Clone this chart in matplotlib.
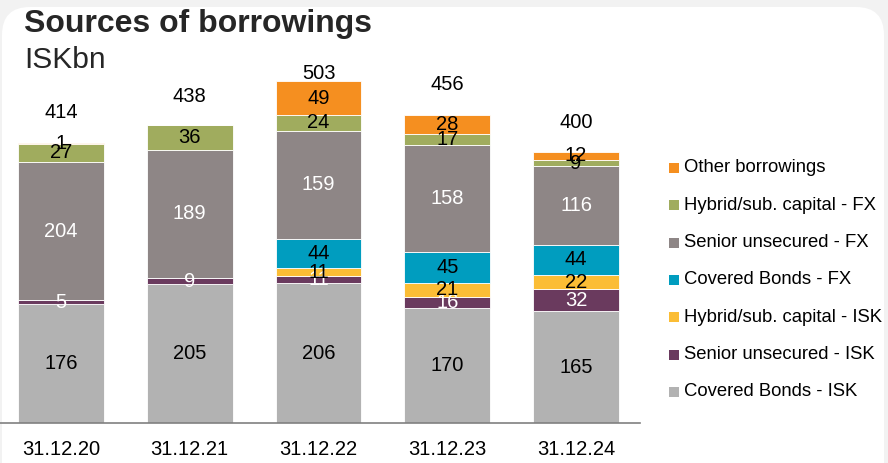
import numpy as np
import matplotlib
matplotlib.use("Agg")
import matplotlib.pyplot as plt
from matplotlib.patches import FancyBboxPatch, Rectangle
from matplotlib.transforms import IdentityTransform

plt.rcParams["font.family"] = ["Liberation Sans", "DejaVu Sans"]

# ── data (ISKbn) ───────────────────────────────────────────
dates = ["31.12.20", "31.12.21", "31.12.22", "31.12.23", "31.12.24"]
covered_isk = [176, 205, 206, 170, 165]
senior_isk = [5, 9, 11, 16, 32]
hybrid_isk = [0, 0, 11, 21, 22]
covered_fx = [0, 0, 44, 45, 44]
senior_fx = [204, 189, 159, 158, 116]
hybrid_fx = [27, 36, 24, 17, 9]
other = [1, 0, 49, 28, 12]
totals = [414, 438, 503, 456, 400]

series = [
    ("Covered Bonds - ISK", covered_isk, "#b2b2b2", "black"),
    ("Senior unsecured - ISK", senior_isk, "#6a3a5e", "white"),
    ("Hybrid/sub. capital - ISK", hybrid_isk, "#fbbd35", "black"),
    ("Covered Bonds - FX", covered_fx, "#009dbf", "black"),
    ("Senior unsecured - FX", senior_fx, "#8e8686", "white"),
    ("Hybrid/sub. capital - FX", hybrid_fx, "#a0ac5e", "black"),
    ("Other borrowings", other, "#f58f20", "black"),
]


def plot_chart():
    fig = plt.figure(figsize=(8.88, 4.63), dpi=100, facecolor="#f2f2f2")

    # ── white card ───────────────────────────────────────
    card = FancyBboxPatch((2, -30), 882, 486, boxstyle="round,pad=0,rounding_size=28",
                          facecolor="white", edgecolor="none", transform=IdentityTransform(),
                          zorder=-5)
    fig.add_artist(card)

    fig.text(24 / 888, 1 - 24 / 463, "Sources of borrowings", fontsize=23,
             fontweight="bold", color="#262626", va="center", ha="left")
    fig.text(24 / 888, 1 - 60 / 463, "ISKbn", fontsize=21.5, color="#262626",
             va="center", ha="left")

    # ── stacked bars ─────────────────────────────────────
    ax = fig.add_axes([0, 40 / 463, 640 / 888, 366 / 463])
    ax.set_facecolor("none")
    ax.set_zorder(2)
    x = np.arange(len(dates))
    bottom = np.zeros(len(dates))
    for name, vals, color, tcolor in series:
        vals = np.array(vals, dtype=float)
        ax.bar(x, vals, 0.667, bottom=bottom, color=color, edgecolor="white",
               linewidth=0.6, label=name)
        for xi, b, v in zip(x, bottom, vals):
            if v > 0:
                ax.text(xi, b + v / 2, f"{v:.0f}", ha="center", va="center",
                        fontsize=14.5, color=tcolor)
        bottom += vals

    for xi, tot in zip(x, totals):
        ax.text(xi, min(tot + 44, 516), str(tot), ha="center", va="center",
                fontsize=14.5, color="black")

    ax.set_xlim(-0.473, 4.496)
    ax.set_ylim(0, 540)
    ax.set_xticks(x)
    ax.set_xticklabels(dates, fontsize=14.5)
    ax.tick_params(axis="x", length=0, pad=12)
    ax.set_yticks([])
    for s in ["left", "top", "right"]:
        ax.spines[s].set_visible(False)
    ax.spines["bottom"].set_color("#808080")
    ax.spines["bottom"].set_linewidth(1.2)

    # ── legend ───────────────────────────────────────────
    for i, (name, vals, color, tcolor) in enumerate(reversed(series)):
        yc = 463 - (168 + i * 37.3)
        fig.add_artist(Rectangle((669, yc - 5), 10, 10, facecolor=color,
                                 edgecolor="none", transform=IdentityTransform()))
        fig.text(684 / 888, yc / 463, name, fontsize=13.3, color="black",
                 va="center", ha="left")

    fig.savefig("out.png", dpi=100, facecolor=fig.get_facecolor())


if __name__ == "__main__":
    plot_chart()
